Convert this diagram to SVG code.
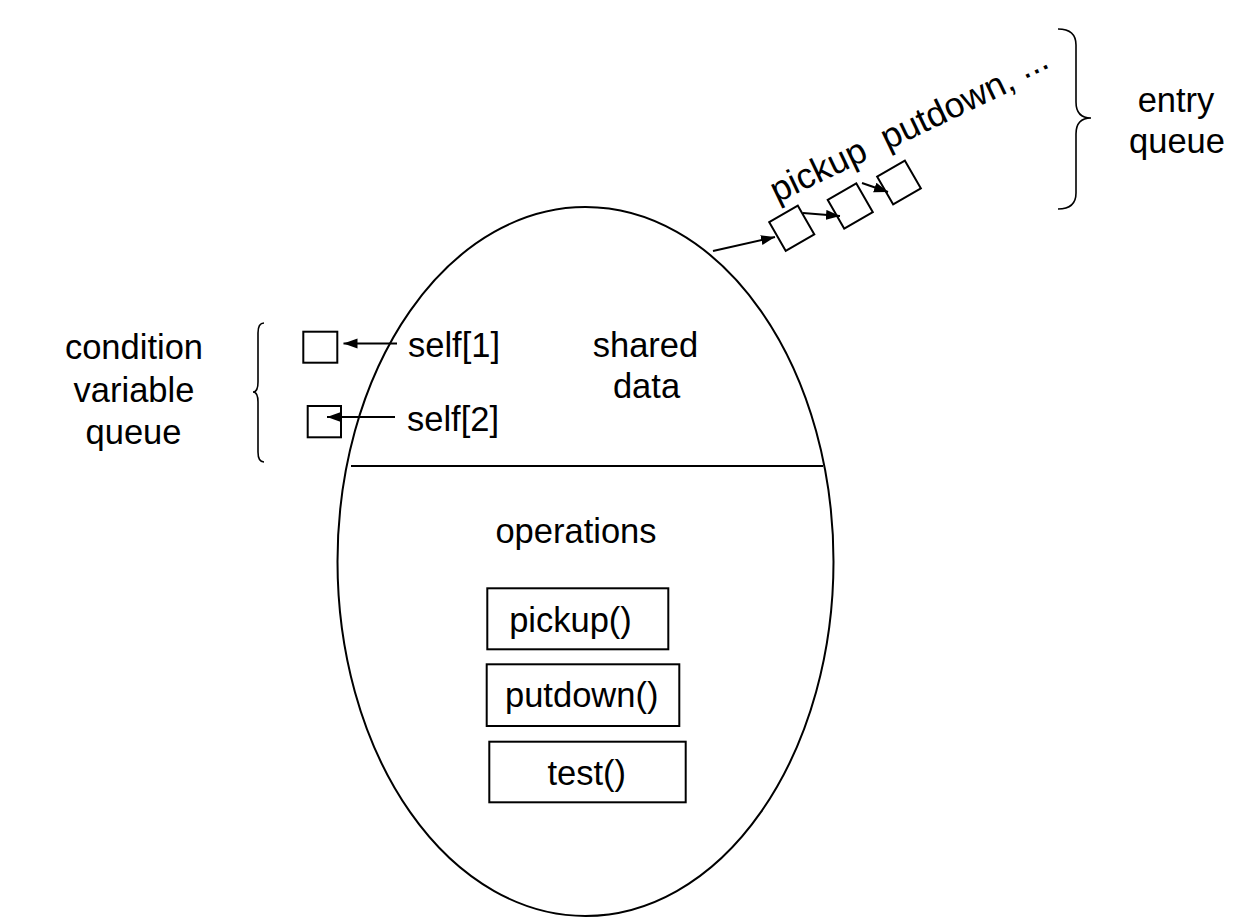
<svg xmlns="http://www.w3.org/2000/svg" width="1238" height="924" viewBox="0 0 1238 924">
<style>
text { font-family: "Liberation Sans", Arial, Helvetica, sans-serif; font-size: 34.5px; fill: #000; }
.c { text-anchor: middle; }
.shape { fill: #fff; stroke: #000; stroke-width: 2; }
.line { fill: none; stroke: #000; stroke-width: 2; }
.brace { fill: none; stroke: #000; stroke-width: 1.6; }
</style>
<defs>
<marker id="arrow" markerUnits="userSpaceOnUse" markerWidth="15" markerHeight="11" refX="14" refY="5" orient="auto">
<path d="M0,0 L14,5 L0,10 z" fill="#000"/>
</marker>
</defs>
<rect width="1238" height="924" fill="#fff"/>

<g id="monitor">
<ellipse cx="585.5" cy="561.5" rx="248" ry="354.5" class="line"/>
<line x1="351" y1="466" x2="823" y2="466" class="line"/>
</g>

<g id="shared-data">
<text x="645.5" y="357" class="c">shared</text>
<text x="646.5" y="397.5" class="c">data</text>
</g>

<g id="operations">
<text x="576" y="543" class="c">operations</text>
</g>

<g id="op-pickup">
<rect x="487.3" y="588.3" width="181" height="61" class="shape"/>
<text x="570.5" y="632" class="c">pickup()</text>
</g>
<g id="op-putdown">
<rect x="486.7" y="664.3" width="192.6" height="61.7" class="shape"/>
<text x="581.7" y="707" class="c">putdown()</text>
</g>
<g id="op-test">
<rect x="489.3" y="741.7" width="196.4" height="60.6" class="shape"/>
<text x="586.7" y="785" class="c">test()</text>
</g>

<g id="cv-label">
<text x="134" y="359" class="c">condition</text>
<text x="134" y="402" class="c">variable</text>
<text x="133.5" y="444" class="c">queue</text>
<path class="brace" d="M264,323 Q258,323 258,333 L258,382 Q258,392 253,392 Q258,392 258,402 L258,452 Q258,462 264,462"/>
</g>

<g id="cv-self1">
<rect x="303.3" y="331.7" width="34" height="31" class="shape"/>
<text x="408" y="357">self[1]</text>
</g>
<g id="cv-self2">
<rect x="307.7" y="406" width="33.3" height="31.3" class="shape"/>
<text x="407" y="431">self[2]</text>
</g>

<g id="entry-queue">
<rect x="-16.5" y="-16.5" width="33" height="33" class="shape" transform="translate(791.75,228.25) rotate(-30)"/>
<rect x="-16.5" y="-16.5" width="33" height="33" class="shape" transform="translate(850.25,206) rotate(-30)"/>
<rect x="-16" y="-16" width="32" height="32" class="shape" transform="translate(899,182.5) rotate(-30)"/>
<text transform="translate(777,203) rotate(-25.5)" style="font-size:35.5px" xml:space="preserve">pickup  putdown, <tspan dy="-5">...</tspan></text>
</g>

<g id="entry-label">
<path class="brace" d="M1058,29 Q1076,29 1076,45 L1076,102 Q1076,118 1091,118 Q1076,118 1076,134 L1076,193 Q1076,209 1058,209"/>
<text x="1176" y="112" class="c">entry</text>
<text x="1177" y="153" class="c">queue</text>
</g>

<g id="connectors">
<line x1="397" y1="343.5" x2="343.5" y2="343.5" class="line" marker-end="url(#arrow)"/>
<line x1="395" y1="417" x2="327" y2="417" class="line" stroke-width="1.6" marker-end="url(#arrow)"/>
<line x1="713" y1="251" x2="775" y2="237" class="line" marker-end="url(#arrow)"/>
<line x1="803" y1="213" x2="840" y2="216" class="line" marker-end="url(#arrow)"/>
<line x1="862" y1="183" x2="888" y2="192" class="line" stroke-width="1.6" marker-end="url(#arrow)"/>
</g>
</svg>
